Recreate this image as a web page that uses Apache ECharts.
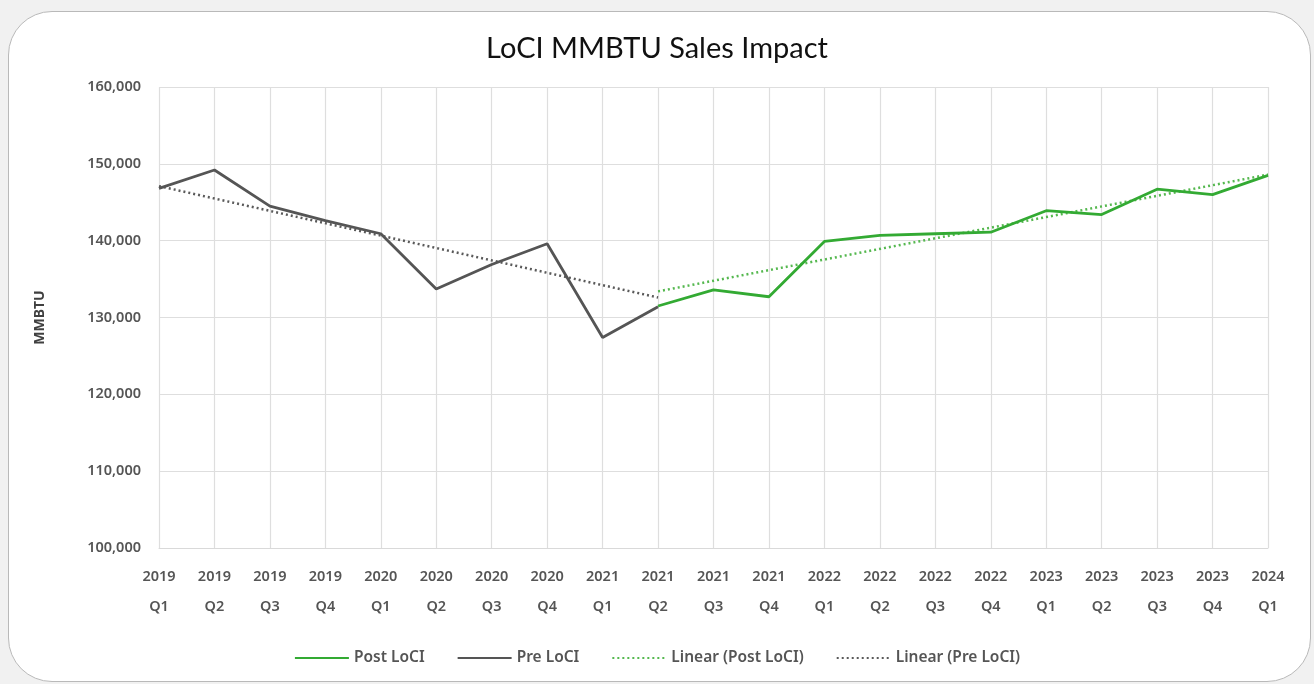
<!DOCTYPE html>
<html>
<head>
<meta charset="utf-8">
<script src="https://cdn.jsdelivr.net/npm/echarts@6/dist/echarts.min.js"></script>
<style>
  html, body { margin: 0; padding: 0; width: 1314px; height: 684px; background: #f1f1f1; overflow: hidden; }
  #card { position: absolute; left: 8px; top: 11px; width: 1303px; height: 671px; background: #fff;
          border: 1.5px solid #b9b9b9; border-radius: 44px; box-sizing: border-box; }
  #chart { position: absolute; left: 0; top: 0; width: 1314px; height: 684px; }
</style>
</head>
<body>
<div id="card"></div>
<div id="chart"></div>
<script>
const categories = ['2019\nQ1','2019\nQ2','2019\nQ3','2019\nQ4','2020\nQ1','2020\nQ2','2020\nQ3','2020\nQ4',
  '2021\nQ1','2021\nQ2','2021\nQ3','2021\nQ4','2022\nQ1','2022\nQ2','2022\nQ3','2022\nQ4',
  '2023\nQ1','2023\nQ2','2023\nQ3','2023\nQ4','2024\nQ1'];
const preLoCI = [146800, 149200, 144500, 142600, 140900, 133700, 136900, 139600, 127400, 131400,
  null, null, null, null, null, null, null, null, null, null, null];
const postLoCI = [null, null, null, null, null, null, null, null, null, 131500,
  133600, 132700, 139900, 140700, 140900, 141100, 143900, 143400, 146700, 146000, 148500];
// trend line endpoints: [category index, value]
const preTrend = [[0, 147100], [9, 132600]];
const postTrend = [[9, 133400], [20, 148600]];
const yTicks = { min: 100000, max: 160000, interval: 10000 };

const labelColor = '#555555';
const fontFam = '"Noto Sans", "DejaVu Sans", sans-serif';
const chart = echarts.init(document.getElementById('chart'), null, { renderer: 'canvas' });
chart.setOption({
  backgroundColor: 'transparent',
  animation: false,
  title: {
    text: 'LoCI MMBTU Sales Impact',
    left: 'center', top: 29,
    textStyle: { fontFamily: 'Lato, "Noto Sans", sans-serif', fontSize: 29, fontWeight: 'normal', color: '#111' }
  },
  grid: { left: 159, right: 46, top: 87, bottom: 136, containLabel: false },
  legend: {
    bottom: 13, left: 'center',
    itemWidth: 54, itemHeight: 3, itemGap: 32,
    itemStyle: { opacity: 0 },
    textStyle: { color: labelColor, fontSize: 15.5, fontWeight: 600, fontFamily: fontFam },
    data: ['Post LoCI', 'Pre LoCI', 'Linear (Post LoCI)', 'Linear (Pre LoCI)']
  },
  xAxis: {
    type: 'category', data: categories, boundaryGap: false,
    axisLine: { show: true, lineStyle: { color: '#d9d9d9' } },
    axisTick: { show: false },
    splitLine: { show: true, lineStyle: { color: '#dedede', width: 1.2 } },
    axisLabel: { color: labelColor, fontSize: 14.5, fontWeight: 600, fontFamily: fontFam,
                 lineHeight: 30, margin: 14, interval: 0 }
  },
  yAxis: {
    type: 'value', min: yTicks.min, max: yTicks.max, interval: yTicks.interval,
    name: 'MMBTU', nameLocation: 'middle', nameGap: 112,
    nameTextStyle: { color: '#404040', fontSize: 14, fontWeight: 'bold', fontFamily: fontFam },
    axisLine: { show: false }, axisTick: { show: false },
    splitLine: { lineStyle: { color: '#dedede', width: 1.2 } },
    axisLabel: { color: labelColor, fontSize: 14.5, fontWeight: 600, fontFamily: fontFam, margin: 18,
                 formatter: v => v.toLocaleString('en-US') }
  },
  series: [
    { name: 'Post LoCI', type: 'line', data: postLoCI, showSymbol: false, symbol: 'none',
      lineStyle: { color: '#33aa33', width: 2.8 }, itemStyle: { color: '#33aa33' }, z: 4 },
    { name: 'Pre LoCI', type: 'line', data: preLoCI, showSymbol: false, symbol: 'none',
      lineStyle: { color: '#555555', width: 2.8 }, itemStyle: { color: '#555555' }, z: 3 },
    { name: 'Linear (Post LoCI)', type: 'line', data: postTrend, showSymbol: false, symbol: 'none',
      lineStyle: { color: '#55b84f', width: 2.5, type: [2, 3] }, itemStyle: { color: '#55b84f' }, z: 2 },
    { name: 'Linear (Pre LoCI)', type: 'line', data: preTrend, showSymbol: false, symbol: 'none',
      lineStyle: { color: '#5a5a5a', width: 2.5, type: [2, 3] }, itemStyle: { color: '#5a5a5a' }, z: 2 }
  ]
});
</script>
</body>
</html>
